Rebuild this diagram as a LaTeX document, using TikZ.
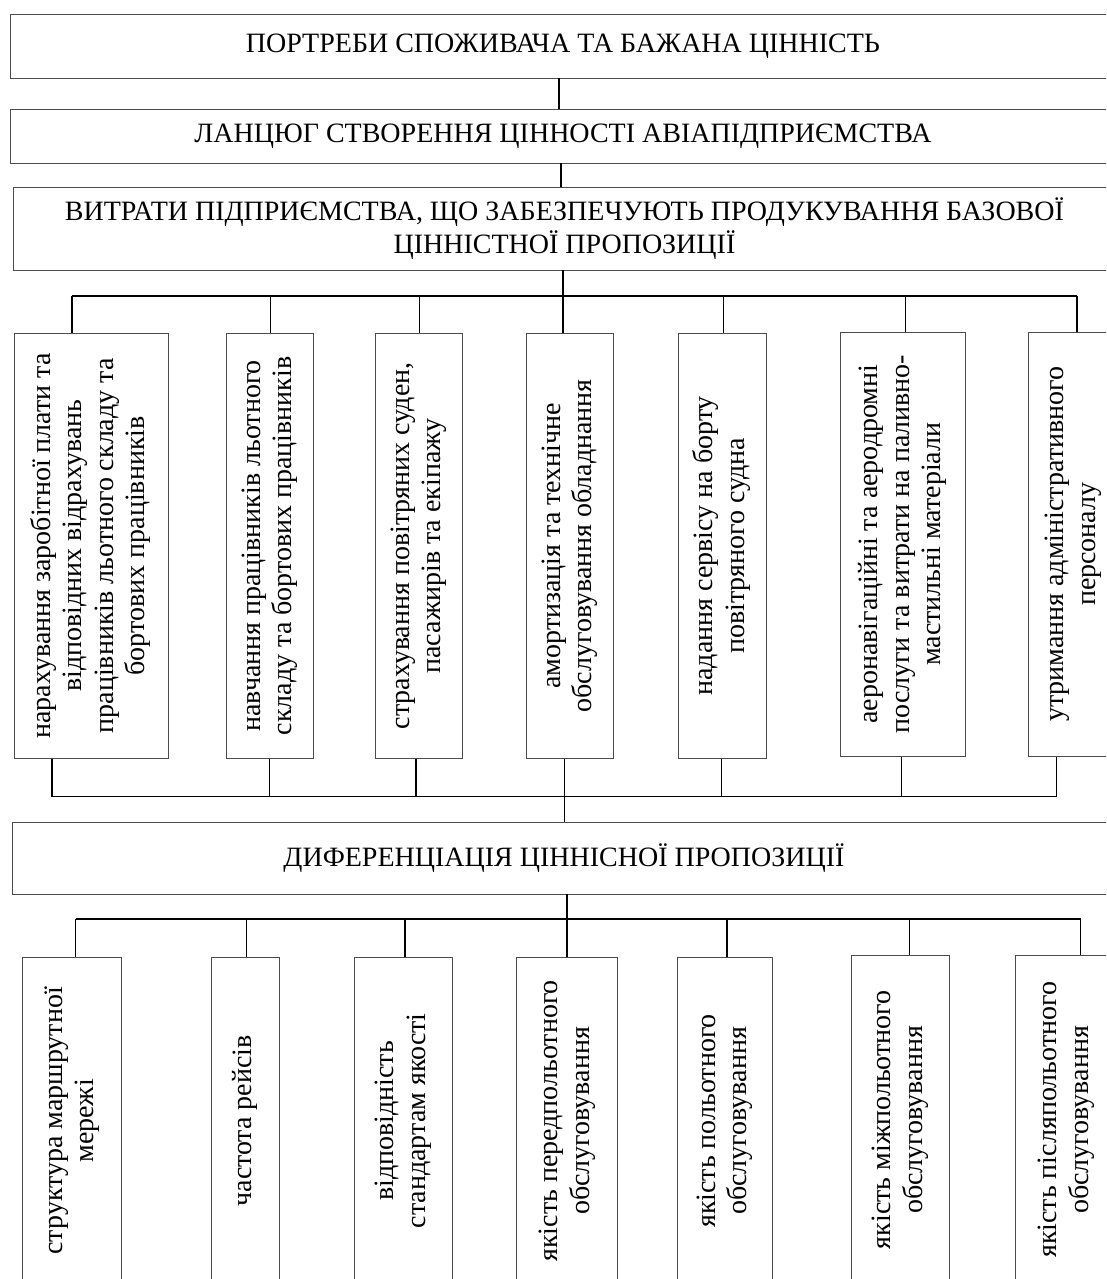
\documentclass[tikz,border=0pt]{standalone}
\usepackage{fontspec}
\setmainfont{Liberation Serif}
\usepackage{graphicx}
\newcommand{\vtext}[1]{\rotatebox{90}{\begin{tabular}{@{}c@{}}#1\end{tabular}}}
\begin{document}
\begin{tikzpicture}[x=1pt,y=-1pt,
  box/.style={draw=black!70, line width=0.8pt, inner sep=0pt, align=center,
    font=\fontsize{28}{31.5}\selectfont},
  conn/.style={draw=black, line width=1.1pt}]
\useasboundingbox (0,0) rectangle (1106,1279);
\clip (0,0) rectangle (1106,1279);

% top boxes
\node[box, minimum width=1106pt, minimum height=64pt] (t1) at (563,46)
  {ПОРТРЕБИ СПОЖИВАЧА ТА БАЖАНА ЦІННІСТЬ};
\node[box, minimum width=1106pt, minimum height=54pt] (t2) at (563,136)
  {ЛАНЦЮГ СТВОРЕННЯ ЦІННОСТІ АВІАПІДПРИЄМСТВА};
\node[box, minimum width=1103pt, minimum height=83pt, font=\fontsize{28}{33}\selectfont] (t3) at (564.5,228.5)
  {ВИТРАТИ ПІДПРИЄМСТВА, ЩО ЗАБЕЗПЕЧУЮТЬ ПРОДУКУВАННЯ БАЗОВОЇ\\ЦІННІСТНОЇ ПРОПОЗИЦІЇ};

% row 1
\node[box, minimum width=154.7pt, minimum height=425pt] (r1) at (91.4,545.8)
  {\vtext{нарахування заробітної плати та\\відповідних відрахувань\\працівників льотного складу та\\бортових працівників}};
\node[box, minimum width=87.7pt, minimum height=425pt] (r2) at (269.9,545.8)
  {\vtext{навчання працівників льотного\\складу та бортових працівників}};
\node[box, minimum width=87.7pt, minimum height=425pt] (r3) at (418.9,545.8)
  {\vtext{страхування повітряних суден,\\пасажирів та екіпажу}};
\node[box, minimum width=87.3pt, minimum height=425pt] (r4) at (569.7,545.8)
  {\vtext{амортизація та технічне\\обслуговування обладнання}};
\node[box, minimum width=88pt, minimum height=425pt] (r5) at (722.3,545.8)
  {\vtext{надання сервісу на борту\\повітряного судна}};
\node[box, minimum width=125pt, minimum height=424.3pt] (r6) at (902.8,544.2)
  {\vtext{аеронавігаційні та аеродромні\\послуги та витрати на паливно-\\мастильні матеріали}};
\node[box, minimum width=90pt, minimum height=424.3pt] (r7) at (1073,544.2)
  {\vtext{утримання адміністративного\\персоналу}};

% differentiation box
\node[box, minimum width=1104pt, minimum height=72pt] (df) at (564,858)
  {ДИФЕРЕНЦІАЦІЯ ЦІННІСНОЇ ПРОПОЗИЦІЇ};

% row 2
\node[box, minimum width=99pt, minimum height=326.3pt] (q1) at (71.5,1120.85)
  {\vtext{структура маршрутної\\мережі}};
\node[box, minimum width=67.7pt, minimum height=326.3pt] (q2) at (245.2,1120.85)
  {\vtext{частота рейсів}};
\node[box, minimum width=98pt, minimum height=326.3pt] (q3) at (403.3,1120.85)
  {\vtext{відповідність\\стандартам якості}};
\node[box, minimum width=101pt, minimum height=326.3pt] (q4) at (567.2,1120.85)
  {\vtext{якість передпольотного\\обслуговування}};
\node[box, minimum width=94.7pt, minimum height=326.3pt] (q5) at (724.7,1120.85)
  {\vtext{якість польотного\\обслуговування}};
\node[box, minimum width=98pt, minimum height=328.3pt] (q6) at (900.3,1119.85)
  {\vtext{якість міжпольотного\\обслуговування}};
\node[box, minimum width=102pt, minimum height=328.3pt] (q7) at (1066,1119.85)
  {\vtext{якість післяпольотного\\обслуговування}};

% top chain
\coordinate (c1) at (559,0);
\coordinate (c2) at (561,0);
\draw[conn] (c1 |- t1.south) -- (c1 |- t2.north);
\draw[conn] (c2 |- t2.south) -- (c2 |- t3.north);

% upper bus
\foreach \i/\x in {1/72,2/270.7,3/419.3,4/563,5/723.3,6/905.7,7/1077}
  \coordinate (u\i) at (\x,296);
\draw[conn] (u1) -- (u7);
\foreach \i in {1,2,3,5,6,7}
  \draw[conn] (u\i) -- (u\i |- r\i.north);
\draw[conn] (u4 |- t3.south) -- (u4 |- r4.north);

% lower bus of row 1
\foreach \i/\x in {1/52,2/269.3,3/416,4/564.6,5/721.3,6/901.7,7/1056.7}
  \coordinate (d\i) at (\x,796.7);
\draw[conn] (d1) -- (d7);
\foreach \i in {1,2,3,5,6,7}
  \draw[conn] (d\i |- r\i.south) -- (d\i);
\draw[conn] (d4 |- r4.south) -- (d4 |- df.north);

% bus of row 2
\foreach \i/\x in {1/75.7,2/246.7,3/405,4/567,5/727,6/909.3,7/1080.7}
  \coordinate (l\i) at (\x,919);
\draw[conn] (l1) -- (l7);
\foreach \i in {1,2,3,5,6,7}
  \draw[conn] (l\i) -- (l\i |- q\i.north);
\draw[conn] (l4 |- df.south) -- (l4 |- q4.north);
\end{tikzpicture}
\end{document}
